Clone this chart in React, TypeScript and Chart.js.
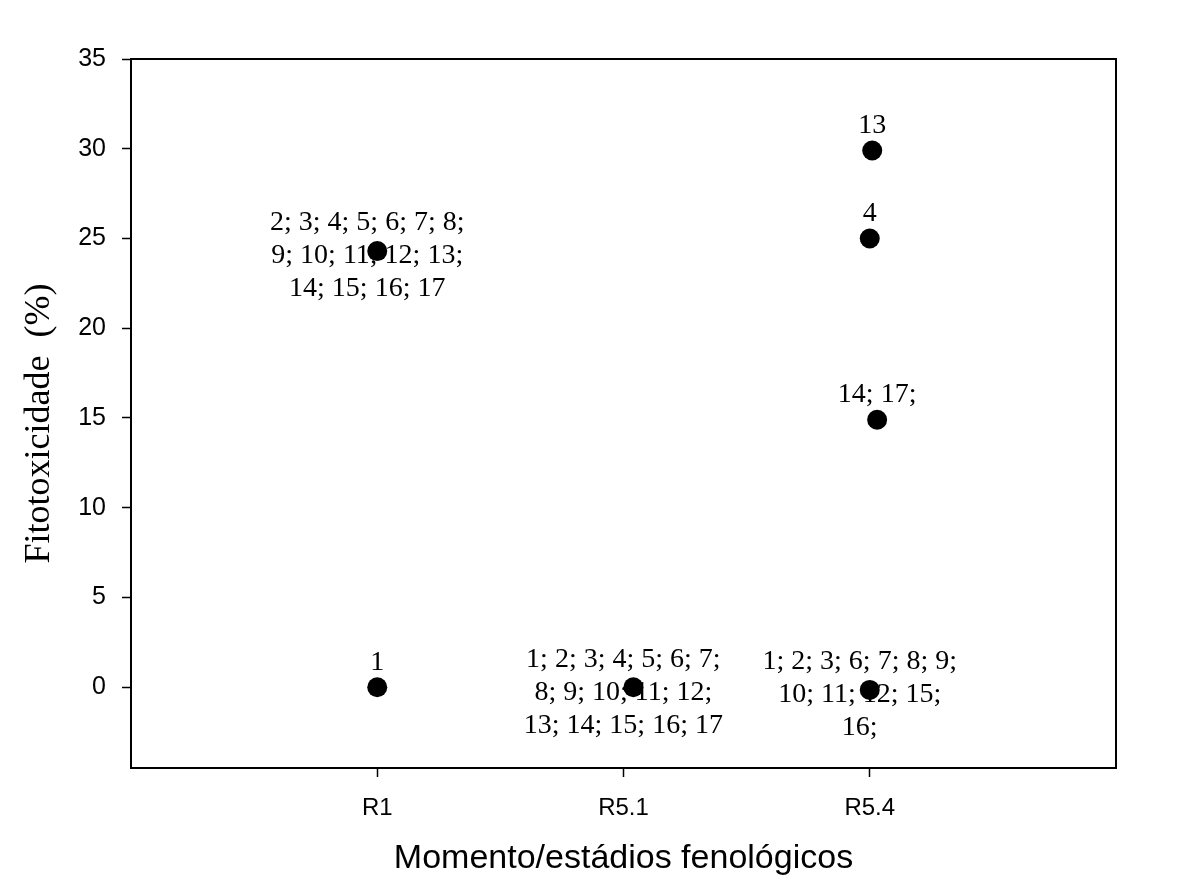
import React, { useEffect, useRef } from "react";
import { Chart, registerables } from "chart.js";

Chart.register(...registerables);

const categories = ["R1", "R5.1", "R5.4"];
const categoryPositions = [1, 2, 3];
const yTickValues = [0, 5, 10, 15, 20, 25, 30, 35];

const pointX = [1, 1, 2.04, 3.01, 3.0, 3.03, 3.0];
const pointY = [24.3, 0, 0, 29.9, 25, 14.9, -0.15];
const pointLabels: string[][] = [
  ["2; 3; 4; 5; 6; 7; 8;", "9; 10; 11; 12; 13;", "14; 15; 16; 17"],
  ["1"],
  ["1; 2; 3; 4; 5; 6; 7;", "8; 9; 10; 11; 12;", "13; 14; 15; 16; 17"],
  ["13"],
  ["4"],
  ["14; 17;"],
  ["1; 2; 3; 6; 7; 8; 9;", "10; 11; 12; 15;", "16;"],
];

const xTitle = "Momento/estádios fenológicos";
const yTitle = "Fitotoxicidade  (%)";

const W = 1194;
const H = 883;

const frameAndLabels = {
  id: "frameAndLabels",
  beforeDraw(chart: any) {
    const ctx = chart.ctx;
    ctx.save();
    ctx.fillStyle = "#ffffff";
    ctx.fillRect(0, 0, chart.width, chart.height);
    ctx.restore();
  },
  beforeDatasetsDraw(chart: any) {
    const ctx = chart.ctx;
    const xs = chart.scales.x;
    const ys = chart.scales.y;
    ctx.save();
    ctx.fillStyle = "#000";
    ctx.font = "28px 'Liberation Serif'";
    ctx.textAlign = "center";
    ctx.textBaseline = "middle";
    const lh = 33;
    pointLabels.forEach((lines, i) => {
      const px = xs.getPixelForValue(pointX[i]);
      const py = ys.getPixelForValue(pointY[i]);
      if (lines.length === 1) {
        ctx.fillText(lines[0], px, py - 25);
      } else {
        const n = lines.length;
        lines.forEach((t, j) => {
          ctx.fillText(t, px - 10, py + 5 + (j - (n - 1) / 2) * lh);
        });
      }
    });
    // y axis title
    const { top, bottom } = chart.chartArea;
    ctx.save();
    ctx.translate(40, (top + bottom) / 2 + 10);
    ctx.rotate(-Math.PI / 2);
    ctx.font = "36px 'Liberation Serif'";
    ctx.fillText(yTitle, 0, 0);
    ctx.restore();
    ctx.restore();
  },
  afterDraw(chart: any) {
    const { left, right, top, bottom } = chart.chartArea;
    const ctx = chart.ctx;
    ctx.save();
    ctx.strokeStyle = "#000";
    ctx.lineWidth = 2;
    ctx.strokeRect(left, top, right - left, bottom - top);
    ctx.restore();
  },
};

export default function App() {
  const ref = useRef<HTMLCanvasElement>(null);
  useEffect(() => {
    if (!ref.current) return;
    const chart = new Chart(ref.current, {
      type: "scatter",
      data: {
        datasets: [
          {
            data: pointX.map((x, i) => ({ x, y: pointY[i] })),
            backgroundColor: "#000",
            borderWidth: 0,
            pointRadius: 10,
            pointHoverRadius: 10,
          },
        ],
      },
      options: {
        animation: false,
        responsive: false,
        events: [],
        layout: { padding: { left: 0, top: 59, right: 78, bottom: 0 } },
        plugins: {
          legend: { display: false },
          tooltip: { enabled: false },
        },
        scales: {
          x: {
            type: "linear",
            min: 0,
            max: 4,
            afterFit: (s: any) => {
              s.height = 115;
            },
            afterBuildTicks: (s: any) => {
              s.ticks = categoryPositions.map((v) => ({ value: v }));
            },
            ticks: {
              color: "#000",
              font: { family: "'Liberation Sans'", size: 24 },
              padding: 17,
              maxRotation: 0,
              autoSkip: false,
              callback: (v: any) => {
                const idx = categoryPositions.indexOf(Number(v));
                return idx >= 0 ? categories[idx] : "";
              },
            },
            grid: {
              drawOnChartArea: false,
              drawTicks: true,
              tickLength: 9,
              color: "#000",
              tickWidth: 1.5,
            },
            border: { display: false },
            title: {
              display: true,
              text: xTitle,
              color: "#000",
              font: { family: "'Liberation Sans'", size: 34 },
              padding: { top: 0, bottom: 4 },
            },
          },
          y: {
            type: "linear",
            min: -4.5,
            max: 35,
            afterFit: (s: any) => {
              s.width = 131;
            },
            afterBuildTicks: (s: any) => {
              s.ticks = yTickValues.map((v) => ({ value: v }));
            },
            ticks: {
              color: "#000",
              font: { family: "'Liberation Sans'", size: 25 },
              padding: 16,
            },
            grid: {
              drawOnChartArea: false,
              drawTicks: true,
              tickLength: 9,
              color: "#000",
              tickWidth: 1.5,
            },
            border: { display: false },
            title: { display: false },
          },
        },
      },
      plugins: [frameAndLabels],
    });
    return () => chart.destroy();
  }, []);
  return (
    <div style={{ position: "absolute", left: 0, top: 0, width: W, height: H }}>
      <canvas ref={ref} width={W} height={H} style={{ width: W, height: H }} />
    </div>
  );
}
